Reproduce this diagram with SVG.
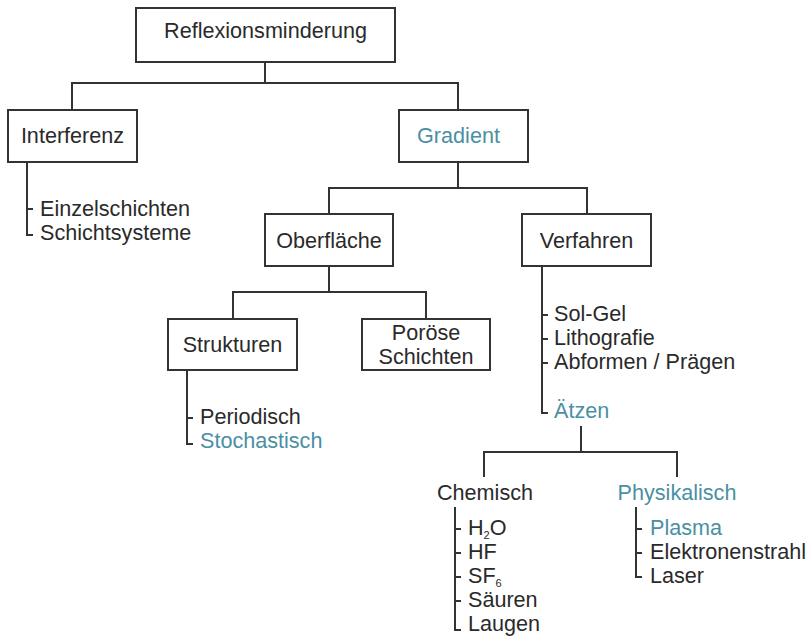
<svg xmlns="http://www.w3.org/2000/svg" width="810" height="638" viewBox="0 0 810 638">
<style>
.box{fill:#fff;stroke:#333;stroke-width:2}
.ln{fill:none;stroke:#333;stroke-width:2}
text{font-family:"Liberation Sans",Arial,sans-serif;font-size:21.6px;fill:#2a2a2a}
.c{text-anchor:middle}
.b{fill:#4a8fa3}
.sub{font-size:11px}
</style>
<rect width="810" height="638" fill="#fff"/>
<g id="connectors">
<path class="ln" d="M265 62V83M72 110V83H458V110"/>
<path class="ln" d="M27 162V235H33M27 209H33"/>
<path class="ln" d="M458 162V188M329 214V188H587V214"/>
<path class="ln" d="M329 266V292M233 319V292H426V319"/>
<path class="ln" d="M187 370V444H193M187 418H193"/>
<path class="ln" d="M542 266V413H548M542 315H548M542 339H548M542 363H548"/>
<path class="ln" d="M581 426V452M484 477V452H677V477"/>
<path class="ln" d="M455 507V630H461M455 529H461M455 553H461M455 577H461M455 601H461"/>
<path class="ln" d="M636 507V577H642M636 529H642M636 553H642"/>
</g>
<g id="reflexionsminderung"><rect class="box" x="136" y="8" width="259" height="54"/><text class="c" x="265.5" y="38">Reflexionsminderung</text></g>
<g id="interferenz"><rect class="box" x="8" y="110" width="129" height="52"/><text class="c" x="72.5" y="143">Interferenz</text></g>
<g id="gradient"><rect class="box" x="399" y="110" width="129" height="52"/><text class="c b" x="458.5" y="143">Gradient</text></g>
<g id="interferenz-list"><text x="40" y="216">Einzelschichten</text><text x="40" y="240">Schichtsysteme</text></g>
<g id="oberflaeche"><rect class="box" x="265" y="214" width="128" height="52"/><text class="c" x="329" y="248">Oberfläche</text></g>
<g id="verfahren"><rect class="box" x="522" y="214" width="129" height="52"/><text class="c" x="586.5" y="248">Verfahren</text></g>
<g id="strukturen"><rect class="box" x="168" y="319" width="129" height="51"/><text class="c" x="232.5" y="352">Strukturen</text></g>
<g id="poroese"><rect class="box" x="362" y="319" width="128" height="51"/><text class="c" x="426" y="340">Poröse</text><text class="c" x="426" y="364">Schichten</text></g>
<g id="strukturen-list"><text x="200" y="424">Periodisch</text><text class="b" x="200" y="448">Stochastisch</text></g>
<g id="verfahren-list"><text x="554" y="321">Sol-Gel</text><text x="554" y="345">Lithografie</text><text x="554" y="369">Abformen / Prägen</text></g>
<g id="aetzen"><text class="b" x="554" y="418">Ätzen</text></g>
<g id="chemisch"><text class="c" x="485" y="500">Chemisch</text></g>
<g id="physikalisch"><text class="c b" x="677" y="500">Physikalisch</text></g>
<g id="chemisch-list"><text x="468" y="535">H<tspan class="sub" dy="4">2</tspan><tspan dy="-4">O</tspan></text><text x="468" y="559">HF</text><text x="468" y="583">SF<tspan class="sub" dy="4">6</tspan></text><text x="468" y="607">Säuren</text><text x="468" y="631">Laugen</text></g>
<g id="physikalisch-list"><text class="b" x="650" y="535">Plasma</text><text x="650" y="559">Elektronenstrahl</text><text x="650" y="583">Laser</text></g>
</svg>
